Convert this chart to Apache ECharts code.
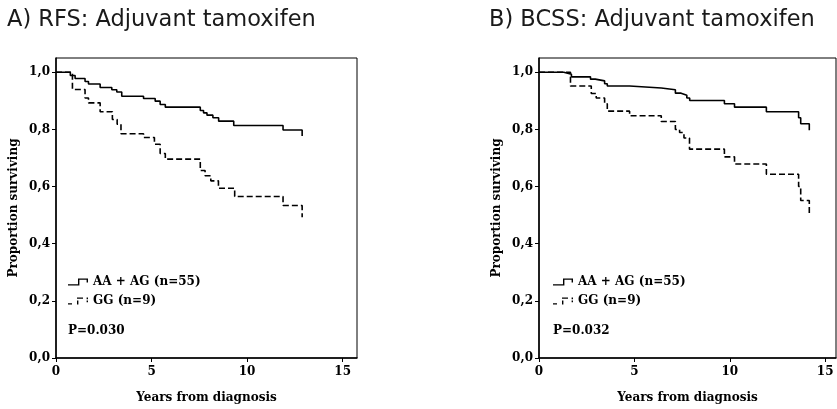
<!DOCTYPE html>
<html>
<head>
<meta charset="utf-8">
<script src="https://cdn.jsdelivr.net/npm/echarts@6/dist/echarts.min.js"></script>
<style>
  html, body { margin: 0; padding: 0; background: #fff; }
  #chart { width: 837px; height: 409px; }
</style>
</head>
<body>
<div id="chart"></div>
<script>
// tick labels
const xTicks = [0, 5, 10, 15]
const yTicks = [0, 0.2, 0.4, 0.6, 0.8, 1.0]

// A) RFS (years, proportion surviving)
const rfsAaTimes = [0, 0.75, 1.0, 1.52, 1.7, 2.31, 2.92, 3.18, 3.44, 4.58, 5.19, 5.45, 5.72, 7.55, 7.72, 7.9, 8.21, 8.51, 9.3, 11.88, 12.88, 12.88]
const rfsAaSurv  = [1.0, 0.989, 0.978, 0.968, 0.959, 0.947, 0.939, 0.931, 0.916, 0.908, 0.899, 0.887, 0.878, 0.866, 0.858, 0.85, 0.841, 0.829, 0.814, 0.798, 0.798, 0.777]
const rfsGgTimes = [0, 0.86, 1.52, 1.7, 2.31, 2.95, 3.2, 3.4, 4.58, 5.15, 5.45, 5.72, 7.55, 7.8, 8.1, 8.5, 9.35, 11.88, 12.88, 12.88]
const rfsGgSurv  = [1.0, 0.94, 0.91, 0.893, 0.862, 0.835, 0.818, 0.785, 0.772, 0.748, 0.716, 0.696, 0.656, 0.638, 0.62, 0.594, 0.565, 0.534, 0.534, 0.493]

// B) BCSS
const bcssAaTimes = [0, 1.3, 1.7, 2.7, 2.95, 3.44, 3.58, 4.75, 6.41, 7.15, 7.45, 7.75, 7.9, 9.72, 10.25, 11.92, 13.61, 13.72, 14.17, 14.17]
const bcssAaSurv  = [1.0, 0.993, 0.984, 0.976, 0.97, 0.96, 0.952, 0.945, 0.939, 0.927, 0.92, 0.91, 0.901, 0.89, 0.878, 0.862, 0.841, 0.82, 0.82, 0.797]
const bcssGgTimes = [0, 1.65, 2.74, 3.0, 3.44, 3.58, 4.75, 6.41, 7.15, 7.37, 7.6, 7.89, 9.72, 10.25, 11.92, 13.61, 13.72, 14.17, 14.17]
const bcssGgSurv  = [1.0, 0.952, 0.926, 0.91, 0.89, 0.864, 0.848, 0.828, 0.80, 0.789, 0.77, 0.731, 0.704, 0.679, 0.643, 0.60, 0.551, 0.551, 0.506]

const nameAa = 'AA + AG (n=55)'
const nameGg = 'GG (n=9)'

const serif = 'DejaVu Serif'
const zip = (t, s) => t.map((v, i) => [v, s[i]])

const iconSolid = 'path://M0,5.8L10,5.8L10,0L20,0L20,4L18.6,4L18.6,1.2L11.4,1.2L11.4,7L0,7Z'
const iconDashed = 'path://M0,5.8h4v1.2h-4z M9,3h1.4v4h-1.4z M9,0h6v1.2h-6z M18.6,0h1.4v1.8h-1.4z M18.6,3h1.4v1.8h-1.4z'

const boldText = { fontFamily: serif, fontWeight: 'bold', color: '#000' }

const makeXAxis = (idx, max) => ({
    type: 'value',
    gridIndex: idx,
    min: 0,
    max: max,
    name: 'Years from diagnosis',
    nameLocation: 'middle',
    nameGap: 34,
    nameTextStyle: { ...boldText, fontSize: 12 },
    axisLine: { lineStyle: { color: '#000', width: 1.5 } },
    axisTick: { show: true, length: 4, customValues: xTicks, lineStyle: { color: '#000' } },
    axisLabel: { customValues: xTicks, margin: 8, ...boldText, fontSize: 12 },
    splitLine: { show: false }
})

const makeYAxis = (idx) => ({
    type: 'value',
    gridIndex: idx,
    min: 0,
    max: 1.05,
    name: 'Proportion surviving',
    nameLocation: 'middle',
    nameRotate: 90,
    nameGap: 36,
    nameTextStyle: { ...boldText, fontSize: 12 },
    axisLine: { show: true, lineStyle: { color: '#000', width: 1.5 } },
    axisTick: { show: true, length: 4, customValues: yTicks, lineStyle: { color: '#000' } },
    axisLabel: {
        customValues: yTicks,
        margin: 6,
        ...boldText,
        fontSize: 12,
        formatter: v => v.toFixed(1).replace('.', ',')
    },
    splitLine: { show: false }
})

const kmLine = (name, data, idx, dashed) => ({
    name: name,
    type: 'line',
    step: 'end',
    xAxisIndex: idx,
    yAxisIndex: idx,
    data: data,
    symbol: 'none',
    color: '#000',
    silent: true,
    lineStyle: { color: '#000', width: 1.6, type: dashed ? [6, 3] : 'solid' }
})

const makeLegend = (left) => ({
    orient: 'vertical',
    left: left,
    top: 276,
    padding: 0,
    itemWidth: 20,
    itemHeight: 7,
    itemGap: 7,
    selectedMode: false,
    itemStyle: { color: '#000', borderWidth: 0 },
    textStyle: { ...boldText, fontSize: 12 },
    data: [
        { name: nameAa, icon: iconSolid },
        { name: nameGg, icon: iconDashed }
    ]
})

const titleStyle = { fontFamily: 'DejaVu Sans', fontWeight: 'normal', fontSize: 22.5, color: '#1a1a1a' }

const option = {
    backgroundColor: '#fff',
    animation: false,
    title: [
        { text: 'A) RFS: Adjuvant tamoxifen', left: 7, top: 9, padding: 0, textStyle: titleStyle },
        { text: 'B) BCSS: Adjuvant tamoxifen', left: 489, top: 9, padding: 0, textStyle: titleStyle },
        { text: 'P=0.030', left: 68, top: 325, padding: 0, textStyle: { ...boldText, fontSize: 12 } },
        { text: 'P=0.032', left: 553, top: 325, padding: 0, textStyle: { ...boldText, fontSize: 12 } }
    ],
    legend: [makeLegend(68), makeLegend(553)],
    grid: [
        { left: 56, top: 58, width: 301, height: 302, show: true, borderColor: '#000', borderWidth: 1, backgroundColor: 'transparent' },
        { left: 539, top: 58, width: 297, height: 302, show: true, borderColor: '#000', borderWidth: 1, backgroundColor: 'transparent' }
    ],
    xAxis: [makeXAxis(0, 15.75), makeXAxis(1, 15.57)],
    yAxis: [makeYAxis(0), makeYAxis(1)],
    series: [
        kmLine(nameAa, zip(rfsAaTimes, rfsAaSurv), 0, false),
        kmLine(nameGg, zip(rfsGgTimes, rfsGgSurv), 0, true),
        kmLine(nameAa, zip(bcssAaTimes, bcssAaSurv), 1, false),
        kmLine(nameGg, zip(bcssGgTimes, bcssGgSurv), 1, true)
    ]
}

const chart = echarts.init(document.getElementById('chart'), null, { renderer: 'canvas' })
chart.setOption(option)
</script>
</body>
</html>
